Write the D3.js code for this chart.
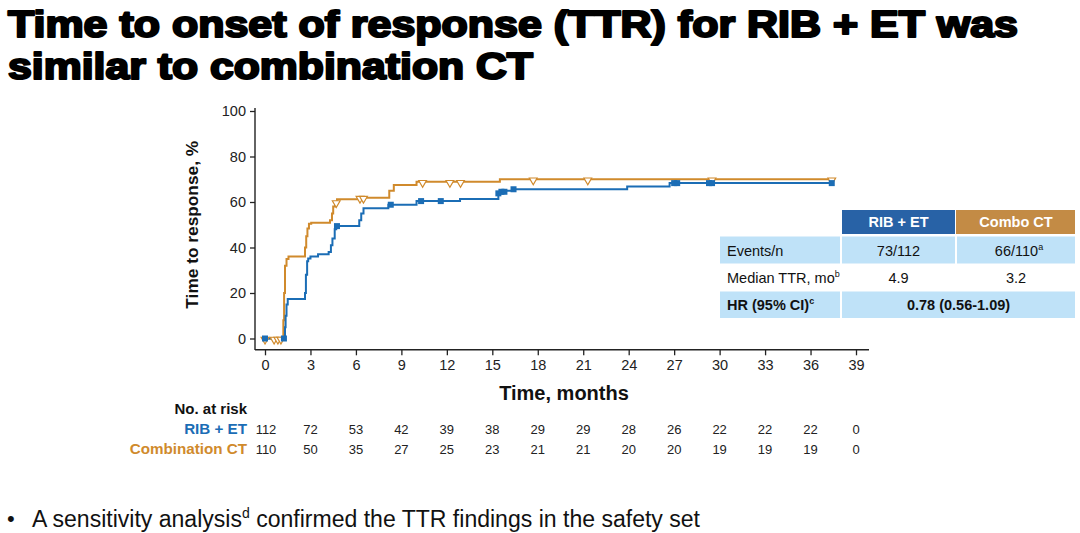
<!DOCTYPE html>
<html><head><meta charset="utf-8">
<script src="https://cdn.jsdelivr.net/npm/d3@7"></script>
<style>
html,body{margin:0;padding:0;background:#fff;}
svg text{font-family:"Liberation Sans",Arial,sans-serif;}
</style></head>
<body><svg id="c" width="1080" height="533"></svg>
<script>
// ---------------- data ----------------
const titleLines = ["Time to onset of response (TTR) for RIB + ET was", "similar to combination CT"];
const bulletText = ["A sensitivity analysis", "d", " confirmed the TTR findings in the safety set"];
const xTicks = [0,3,6,9,12,15,18,21,24,27,30,33,36,39];
const yTicks = [0,20,40,60,80,100];
const seriesNames = ["RIB + ET", "Combination CT"];

// RIB + ET step curve (time in months, cumulative response %)
const ribTimes  = [0, 1.32, 1.36, 1.42, 1.5, 1.58, 2.64, 2.7, 2.78, 2.85, 3.0, 3.5, 4.2, 4.35, 4.45, 4.6, 4.7, 6.22, 6.35, 6.5, 8.14, 10.0, 12.87, 15.4, 15.6, 15.85, 16.3, 23.9, 26.7, 37.4];
const ribValues = [0, 5, 10, 15, 17.4, 17.4, 20, 28, 34, 35.2, 36, 37, 38, 41, 44, 48, 49.4, 52, 55, 57.2, 58.8, 60.4, 61.3, 63.8, 64.5, 65, 65.6, 66.8, 68.3, 68.3];
const ribCensorT = [0, 1.25, 4.75, 8.3, 10.3, 11.6, 15.4, 15.6, 15.8, 16.4, 27.0, 27.2, 29.3, 29.5, 37.4];

// Combination CT step curve
const ctTimes  = [0, 1.21, 1.26, 1.32, 1.42, 1.55, 2.64, 2.72, 2.8, 2.9, 3.05, 4.29, 4.42, 4.5, 4.62, 4.75, 6.27, 8.2, 8.5, 10.0, 15.5, 37.4];
const ctValues = [0, 8, 20, 32, 35, 36, 40, 45, 48.4, 50.4, 50.9, 52, 55, 58, 60, 61.2, 61.9, 65, 67.5, 68.9, 70.0, 70.0];
const ctCensorT = [0, 0.6, 0.85, 1.05, 4.7, 6.27, 6.5, 10.4, 12.2, 12.9, 17.7, 21.3, 29.5, 37.4];

const riskRib = [112,72,53,42,39,38,29,29,28,26,22,22,22,0];
const riskCt  = [110,50,35,27,25,23,21,21,20,20,19,19,19,0];

const tableHeader = ["", "RIB + ET", "Combo CT"];
const tableRowLabels = [["Events/n",""], ["Median TTR, mo","b"], ["HR (95% CI)","c"]];
const tableRib = ["73/112", "4.9"];
const tableCt  = [["66/110","a"], ["3.2",""]];
const tableHR  = "0.78 (0.56-1.09)";

// ---------------- style ----------------
const BLUE = "#1b6db5", ORANGE = "#d08a2c";
const HBLUE = "#2862a6", HORANGE = "#c38b45", LBLUE = "#bfe2f8";

const svg = d3.select("#c");

// title
const tg = svg.append("g");
titleLines.forEach((t,i)=>{
  tg.append("text").attr("x",8).attr("y",[37,79][i])
    .attr("font-size",37).attr("font-weight","bold")
    .attr("stroke","#000").attr("stroke-width",2.2).attr("stroke-linejoin","round")
    .attr("textLength", i===0 ? 1010 : 525).attr("lengthAdjust","spacingAndGlyphs")
    .text(t);
});

// scales
const x = d3.scaleLinear().domain([0,39]).range([265,856]);
const y = d3.scaleLinear().domain([0,100]).range([338.5,111]);

// axes
const axisColor = "#222";
const gx = svg.append("g").attr("transform",`translate(0,${y(0)+10.8})`);
gx.call(d3.axisBottom(x).tickValues(xTicks).tickSize(6).tickSizeOuter(0).tickPadding(4));
gx.select(".domain").remove();
gx.append("line").attr("x1",x(0)-10).attr("x2",x(39)+13).attr("y1",0.5).attr("y2",0.5)
  .attr("stroke",axisColor).attr("stroke-width",1.4);
gx.selectAll(".tick line").attr("stroke",axisColor).attr("stroke-width",1.3);
gx.selectAll(".tick text").attr("font-size",14.5).attr("fill","#222").attr("font-family","Liberation Sans, Arial, sans-serif");

const gy = svg.append("g").attr("transform",`translate(255,0)`);
gy.call(d3.axisLeft(y).tickValues(yTicks).tickSize(5).tickSizeOuter(0).tickPadding(4));
gy.select(".domain").remove();
gy.append("line").attr("x1",0).attr("x2",0).attr("y1",y(100)-3).attr("y2",y(0)+11.5)
  .attr("stroke",axisColor).attr("stroke-width",1.4);
gy.selectAll(".tick line").attr("stroke",axisColor).attr("stroke-width",1.3);
gy.selectAll(".tick text").attr("font-size",14.5).attr("fill","#222").attr("font-family","Liberation Sans, Arial, sans-serif");

// axis titles
svg.append("text").attr("transform",`translate(198,${(y(0)+y(100))/2}) rotate(-90)`)
  .attr("text-anchor","middle").attr("font-size",17.3).attr("font-weight","bold").attr("fill","#111")
  .text("Time to response, %");
svg.append("text").attr("x",564).attr("y",400).attr("text-anchor","middle")
  .attr("font-size",20).attr("font-weight","bold").attr("fill","#111").text("Time, months");

// curves
const line = d3.line().x(d=>x(d[0])).y(d=>y(d[1])).curve(d3.curveStepAfter);
const ribData = d3.zip(ribTimes, ribValues);
const ctData = d3.zip(ctTimes, ctValues);
function valueAt(times, values, t){
  const i = d3.bisectRight(times, t) - 1;
  return values[Math.max(0,i)];
}
svg.append("path").datum(ctData).attr("d",line).attr("fill","none").attr("stroke",ORANGE).attr("stroke-width",2);
svg.append("path").datum(ribData).attr("d",line).attr("fill","none").attr("stroke",BLUE).attr("stroke-width",2);

// censor marks
const tri = d3.symbol().type(d3.symbolTriangle).size(26);
svg.append("g").selectAll("path").data(ctCensorT).join("path")
  .attr("d",tri())
  .attr("transform",t=>`translate(${x(t)},${y(valueAt(ctTimes,ctValues,t))+1}) rotate(180)`)
  .attr("fill","#fff").attr("stroke",ORANGE).attr("stroke-width",1.2);
svg.append("g").selectAll("rect").data(ribCensorT).join("rect")
  .attr("x",t=>x(t)-3).attr("y",t=>y(valueAt(ribTimes,ribValues,t))-3)
  .attr("width",6).attr("height",6).attr("fill",BLUE);

// number at risk
svg.append("text").attr("x",247).attr("y",414).attr("text-anchor","end")
  .attr("font-size",15).attr("font-weight","bold").attr("fill","#111").text("No. at risk");
const riskRows = [[seriesNames[0], riskRib, BLUE, 434],[seriesNames[1], riskCt, ORANGE, 454]];
riskRows.forEach(([name, vals, col, yy])=>{
  svg.append("text").attr("x",247).attr("y",yy).attr("text-anchor","end")
    .attr("font-size",15.2).attr("font-weight","bold").attr("fill",col).text(name);
  svg.append("g").selectAll("text").data(vals).join("text")
    .attr("x",(d,i)=>x(xTicks[i])+ (i===0?1:0)).attr("y",yy).attr("text-anchor","middle")
    .attr("font-size",13).attr("fill","#222").text(d=>d);
});

// table
const tb = svg.append("g");
const colX = [720, 842, 957, 1075];
const rowY = [210, 236.5, 263.5, 291.5, 318];
// header
tb.append("rect").attr("x",colX[1]).attr("y",rowY[0]).attr("width",colX[2]-colX[1]-2).attr("height",24).attr("fill",HBLUE);
tb.append("rect").attr("x",colX[2]-1).attr("y",rowY[0]).attr("width",colX[3]-colX[2]+1).attr("height",24).attr("fill",HORANGE);
tb.append("text").attr("x",(colX[1]+colX[2])/2-1).attr("y",rowY[0]+17).attr("text-anchor","middle")
  .attr("font-size",14.5).attr("font-weight","bold").attr("fill","#fff").text(tableHeader[1]);
tb.append("text").attr("x",(colX[2]+colX[3])/2).attr("y",rowY[0]+17).attr("text-anchor","middle")
  .attr("font-size",14.5).attr("font-weight","bold").attr("fill","#fff").text(tableHeader[2]);
// row backgrounds
[[1,2],[3,4]].forEach(([a,b])=>{
  const h = rowY[b]-rowY[a];
  tb.append("rect").attr("x",colX[0]).attr("y",rowY[a]).attr("width",colX[1]-colX[0]-2).attr("height",h).attr("fill",LBLUE);
  if(a===1){
    tb.append("rect").attr("x",colX[1]).attr("y",rowY[a]).attr("width",colX[2]-colX[1]-2).attr("height",h).attr("fill",LBLUE);
    tb.append("rect").attr("x",colX[2]).attr("y",rowY[a]).attr("width",colX[3]-colX[2]).attr("height",h).attr("fill",LBLUE);
  } else {
    tb.append("rect").attr("x",colX[1]).attr("y",rowY[a]).attr("width",colX[3]-colX[1]).attr("height",h).attr("fill",LBLUE);
  }
});
const rowBase = [rowY[1]+19, rowY[2]+19, rowY[3]+18.5];
tableRowLabels.forEach(([lab,sup],i)=>{
  const t = tb.append("text").attr("x",727).attr("y",rowBase[i]).attr("font-size",14.5)
    .attr("font-weight", i===2?"bold":"normal").attr("fill","#111");
  t.append("tspan").text(lab);
  if(sup) t.append("tspan").attr("font-size",9).attr("dy",-6).text(sup);
});
tableRib.forEach((v,i)=>{
  tb.append("text").attr("x",(colX[1]+colX[2])/2-1).attr("y",rowBase[i]).attr("text-anchor","middle")
    .attr("font-size",14.5).attr("fill","#111").text(v);
});
tableCt.forEach(([v,sup],i)=>{
  const t = tb.append("text").attr("x",(colX[2]+colX[3])/2 + (sup?3:0)).attr("y",rowBase[i]).attr("text-anchor","middle")
    .attr("font-size",14.5).attr("fill","#111");
  t.append("tspan").text(v);
  if(sup) t.append("tspan").attr("font-size",9).attr("dy",-6).text(sup);
});
tb.append("text").attr("x",(colX[1]+colX[3])/2).attr("y",rowBase[2]).attr("text-anchor","middle")
  .attr("font-size",14.5).attr("font-weight","bold").attr("fill","#111").text(tableHR);

// bullet
svg.append("text").attr("x",7).attr("y",526).attr("font-size",22).attr("fill","#111").text("•");
const bt = svg.append("text").attr("x",32).attr("y",527).attr("font-size",23).attr("fill","#111")
  .attr("textLength",668).attr("lengthAdjust","spacingAndGlyphs");
bt.append("tspan").text(bulletText[0]);
bt.append("tspan").attr("font-size",14).attr("dy",-9).text(bulletText[1]);
bt.append("tspan").attr("dy",9).text(bulletText[2]);
</script></body></html>
